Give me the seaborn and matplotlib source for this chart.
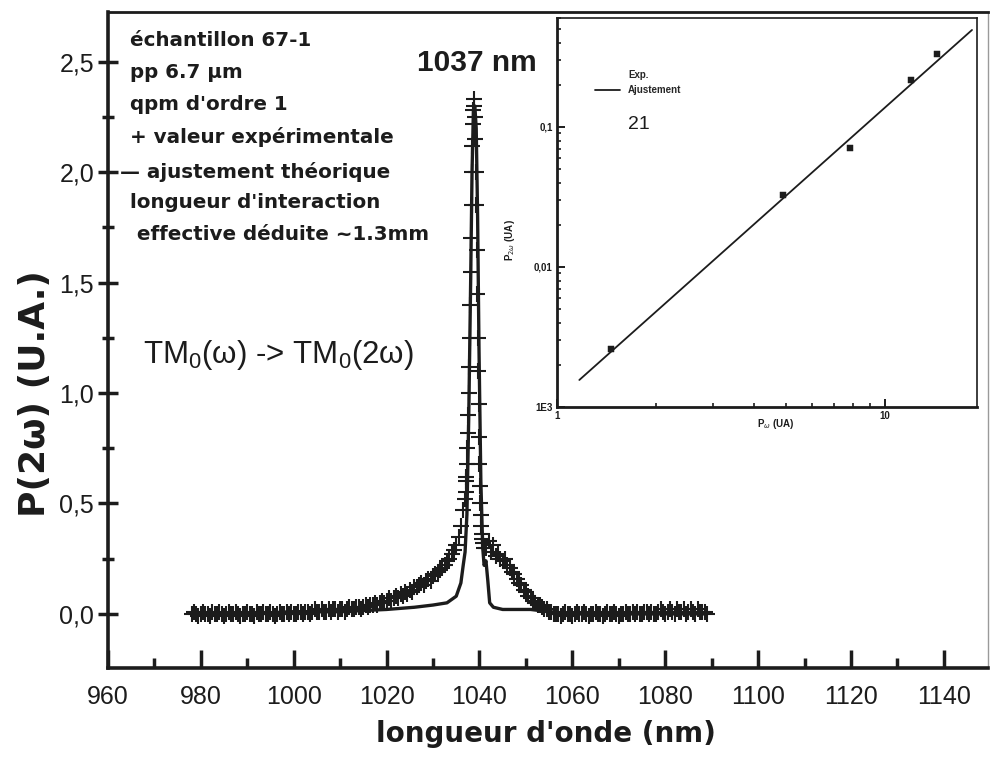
import matplotlib
matplotlib.use("Agg")
import matplotlib.pyplot as plt
import matplotlib.ticker as mticker
from matplotlib.lines import Line2D
import seaborn as sns

# --- Spectre principal : valeurs expérimentales (croix) ---
wl_base_gauche = [978, 978.5, 979, 979.5, 980, 980.5, 981, 981.5, 982, 982.5, 983, 983.5,
                  984, 984.5, 985, 985.5, 986, 986.5, 987, 987.5, 988, 988.5, 989, 989.5,
                  990, 990.5, 991, 991.5, 992, 992.5, 993, 993.5, 994, 994.5, 995, 995.5,
                  996, 996.5, 997, 997.5, 998, 998.5, 999, 999.5, 1000, 1000.5, 1001,
                  1001.5, 1002, 1002.5, 1003, 1003.5, 1004, 1004.5, 1005, 1005.5, 1006,
                  1006.5, 1007, 1007.5, 1008, 1008.5, 1009, 1009.5]
p_base_gauche = [0.00, 0.01, 0.00, -0.01, 0.00, 0.01, 0.00, 0.00, -0.01, 0.01, 0.00, 0.00,
                 0.01, 0.00, -0.01, 0.00, 0.01, 0.00, 0.00, 0.01, 0.00, -0.01, 0.00, 0.00,
                 0.01, 0.00, 0.00, -0.01, 0.01, 0.00, 0.00, 0.01, 0.00, 0.00, 0.01, 0.00,
                 -0.01, 0.00, 0.01, 0.00, 0.00, 0.01, 0.00, 0.01, 0.00, 0.00, 0.01, 0.01,
                 0.00, 0.01, 0.01, 0.00, 0.01, 0.02, 0.01, 0.01, 0.02, 0.01, 0.01, 0.02,
                 0.01, 0.02, 0.02, 0.01]

wl_aile_gauche = [1010, 1010.5, 1011, 1011.5, 1012, 1012.5, 1013, 1013.5, 1014, 1014.5,
                  1015, 1015.5, 1016, 1016.5, 1017, 1017.5, 1018, 1018.5, 1019, 1019.5,
                  1020, 1020.5, 1021, 1021.5, 1022, 1022.5, 1023, 1023.5, 1024, 1024.5,
                  1025, 1025.5, 1026, 1026.5, 1027, 1027.5, 1028, 1028.5, 1029, 1029.5,
                  1030, 1030.5, 1031, 1031.5, 1032, 1032.5, 1033, 1033.5, 1034, 1034.5,
                  1035, 1035.5, 1036, 1036.5]
p_aile_gauche = [0.02, 0.02, 0.01, 0.02, 0.03, 0.02, 0.02, 0.03, 0.03, 0.02,
                 0.03, 0.04, 0.03, 0.04, 0.04, 0.05, 0.04, 0.05, 0.06, 0.05,
                 0.06, 0.07, 0.06, 0.07, 0.08, 0.07, 0.09, 0.08, 0.10, 0.09,
                 0.11, 0.10, 0.12, 0.12, 0.13, 0.14, 0.13, 0.15, 0.16, 0.15,
                 0.17, 0.18, 0.19, 0.20, 0.21, 0.22, 0.24, 0.25, 0.27, 0.29,
                 0.31, 0.35, 0.40, 0.47]

wl_pic = [1036.8, 1037.0, 1037.1, 1037.2, 1037.3, 1037.4, 1037.5, 1037.6, 1037.7, 1037.8,
          1037.9, 1038.0, 1038.1, 1038.2, 1038.3, 1038.4, 1038.5, 1038.6, 1038.7, 1038.8,
          1038.9, 1039.0, 1039.1, 1039.2, 1039.3, 1039.4, 1039.5, 1039.6, 1039.7, 1039.8,
          1039.9, 1040.0, 1040.1, 1040.2, 1040.3, 1040.4, 1040.5, 1040.6, 1040.8, 1041.0]
p_pic = [0.52, 0.55, 0.60, 0.62, 0.68, 0.75, 0.82, 0.90, 1.00, 1.12,
         1.25, 1.40, 1.55, 1.70, 1.85, 2.00, 2.12, 2.22, 2.28, 2.33,
         2.30, 2.25, 2.15, 2.00, 1.85, 1.65, 1.45, 1.25, 1.10, 0.95,
         0.80, 0.68, 0.58, 0.50, 0.45, 0.40, 0.36, 0.34, 0.32, 0.30]

wl_aile_droite = [1041.5, 1042, 1042.5, 1043, 1043.5, 1044, 1044.5, 1045, 1045.5, 1046,
                  1046.5, 1047, 1047.5, 1048, 1048.5, 1049, 1049.5, 1050, 1050.5, 1051,
                  1051.5, 1052, 1052.5, 1053, 1053.5, 1054, 1054.5, 1055, 1055.5, 1056]
p_aile_droite = [0.30, 0.33, 0.28, 0.31, 0.26, 0.27, 0.25, 0.24, 0.25, 0.22,
                 0.21, 0.19, 0.18, 0.16, 0.14, 0.13, 0.11, 0.10, 0.08, 0.07,
                 0.06, 0.05, 0.04, 0.04, 0.03, 0.02, 0.02, 0.01, 0.01, 0.00]

wl_base_droite = [1056.5, 1057, 1057.5, 1058, 1058.5, 1059, 1059.5, 1060, 1060.5, 1061,
                  1061.5, 1062, 1062.5, 1063, 1063.5, 1064, 1064.5, 1065, 1065.5, 1066,
                  1066.5, 1067, 1067.5, 1068, 1068.5, 1069, 1069.5, 1070, 1070.5, 1071,
                  1071.5, 1072, 1072.5, 1073, 1073.5, 1074, 1074.5, 1075, 1075.5, 1076,
                  1076.5, 1077, 1077.5, 1078, 1078.5, 1079, 1079.5, 1080, 1080.5, 1081,
                  1081.5, 1082, 1082.5, 1083, 1083.5, 1084, 1084.5, 1085, 1085.5, 1086,
                  1086.5, 1087, 1087.5, 1088, 1088.5, 1089]
p_base_droite = [0.00, 0.00, -0.01, 0.00, 0.01, 0.00, 0.00, -0.01, 0.00, 0.01, 0.00, 0.00,
                 0.01, 0.00, -0.01, 0.00, 0.00, 0.01, 0.00, 0.00, -0.01, 0.00, 0.01, 0.00,
                 0.00, 0.01, 0.00, -0.01, 0.00, 0.00, 0.01, 0.00, 0.00, 0.01, 0.00, 0.01,
                 0.00, 0.00, 0.01, 0.01, 0.00, 0.01, 0.00, 0.00, 0.01, 0.02, 0.01, 0.00,
                 0.01, 0.02, 0.01, 0.00, 0.02, 0.01, 0.01, 0.02, 0.00, 0.01, 0.02, 0.01,
                 0.00, 0.02, 0.01, 0.01, 0.01, 0.00]

# --- Ajustement théorique ---
wl_fit = [978, 990, 1000, 1010, 1020, 1026, 1030, 1033, 1035, 1036, 1036.5, 1036.9,
          1037.3, 1037.7, 1038.1, 1038.4, 1038.7, 1039.0, 1039.3, 1039.6, 1039.9,
          1040.3, 1040.7, 1041.0, 1041.4, 1041.8, 1042.2, 1043, 1045, 1048, 1051,
          1055, 1060, 1070, 1080, 1089]
p_fit = [0.0, 0.0, 0.01, 0.01, 0.02, 0.03, 0.04, 0.05, 0.08, 0.14, 0.22, 0.28,
         0.45, 0.90, 1.50, 2.00, 2.28, 2.30, 2.20, 1.80, 1.20,
         0.60, 0.30, 0.22, 0.24, 0.15, 0.05, 0.03, 0.02, 0.02, 0.02,
         0.01, 0.0, 0.0, 0.0, 0.0]

# --- Encart : P(2w) en fonction de P(w) ---
p_omega = [1.46, 4.89, 7.82, 11.98, 14.4]
p_2omega = [0.00258, 0.0327, 0.0711, 0.217, 0.330]
p_omega_fit = [1.17, 18.45]
p_2omega_fit = [0.00156, 0.493]

y_ticks = [0.0, 0.5, 1.0, 1.5, 2.0, 2.5]
y_tick_labels = ["0,0", "0,5", "1,0", "1,5", "2,0", "2,5"]
x_ticks = [960, 980, 1000, 1020, 1040, 1060, 1080, 1100, 1120, 1140]

legende_texte = [
    "échantillon 67-1",
    "pp 6.7 µm",
    "qpm d'ordre 1",
    "+ valeur expérimentale",
    "— ajustement théorique",
    "longueur d'interaction",
    " effective déduite ~1.3mm",
]

sns.set_style("ticks")
plt.rcParams["font.family"] = ["Liberation Sans", "DejaVu Sans"]
encre = "#1c1c1c"

fig = plt.figure(figsize=(9.9, 7.7), dpi=100)
ax = fig.add_axes([0.109, 0.1325, 0.889, 0.852])

wl_exp = wl_base_gauche + wl_aile_gauche + wl_pic + wl_aile_droite + wl_base_droite
p_exp = p_base_gauche + p_aile_gauche + p_pic + p_aile_droite + p_base_droite

sns.lineplot(x=wl_fit, y=p_fit, color=encre, lw=2.4, sort=False, estimator=None,
             ax=ax, zorder=2)
sns.scatterplot(x=wl_exp, y=p_exp, marker="+", s=130, linewidth=1.5, color=encre,
                ax=ax, zorder=3)

ax.set_xlim(960, 1149.5)
ax.set_ylim(-0.245, 2.726)
ax.set_xticks(x_ticks)
ax.set_xticklabels([str(v) for v in x_ticks],
                   family=["Liberation Sans Narrow", "Liberation Sans"], fontsize=18)
ax.xaxis.set_minor_locator(mticker.MultipleLocator(10))
ax.set_yticks(y_ticks)
ax.set_yticklabels(y_tick_labels, fontsize=18)
ax.yaxis.set_minor_locator(mticker.MultipleLocator(0.25))
ax.tick_params(axis="x", which="major", direction="in", length=13, width=2.5, pad=12,
               color=encre, labelcolor=encre, bottom=True, top=False)
ax.tick_params(axis="x", which="minor", direction="in", length=7, width=2.5, color=encre,
               bottom=True, top=False)
ax.tick_params(axis="y", which="major", direction="inout", length=14, width=2.5, pad=3,
               color=encre, labelcolor=encre, left=True, right=False)
ax.tick_params(axis="y", which="minor", direction="inout", length=9, width=2.5,
               color=encre, left=True, right=False)
for cote in ["left", "bottom"]:
    ax.spines[cote].set_linewidth(2.6)
    ax.spines[cote].set_color(encre)
ax.spines["top"].set_linewidth(2.0)
ax.spines["top"].set_color(encre)
ax.spines["right"].set_linewidth(1.0)
ax.spines["right"].set_color("#9a9a9a")

ax.set_xlabel("longueur d'onde (nm)", family="DejaVu Sans", fontweight="bold",
              fontsize=20, color=encre)
ax.xaxis.set_label_coords(0.498, -0.079)
ax.set_ylabel("P(2ω) (U.A.)", family="DejaVu Sans", fontweight="bold", fontsize=26,
              color=encre)
ax.yaxis.set_label_coords(-0.064, 0.418)

for i, ligne in enumerate(legende_texte):
    y_px = [40, 73, 105, 137, 172, 202, 235][i]
    x_px = 120 if ligne.startswith("—") else 130
    fig.text(x_px / 990, 1 - y_px / 770, ligne, family="DejaVu Sans", fontweight="bold",
             fontsize=14.3, va="center", ha="left", color=encre)

fig.text(477 / 990, 1 - 63 / 770, "1037 nm", fontweight="bold", fontsize=21.5,
         ha="center", va="center", color=encre)
fig.text(143 / 990, 1 - 355 / 770,
         r"TM$_\mathregular{0}$(ω) -> TM$_\mathregular{0}$(2ω)",
         fontsize=22.5, ha="left", va="center", color=encre)

# --- Encart log-log ---
ax_in = fig.add_axes([0.5626, 0.4714, 0.4242, 0.5052])
sns.lineplot(x=p_omega_fit, y=p_2omega_fit, color=encre, lw=1.3, ax=ax_in,
             estimator=None, sort=False)
sns.scatterplot(x=p_omega, y=p_2omega, marker="s", s=18, color=encre, edgecolor=encre,
                ax=ax_in, zorder=3)
ax_in.set_xscale("log")
ax_in.set_yscale("log")
ax_in.set_xlim(1, 19.1)
ax_in.set_ylim(1e-3, 0.6)
ax_in.xaxis.set_major_locator(mticker.FixedLocator([1, 10]))
ax_in.xaxis.set_major_formatter(mticker.FixedFormatter(["1", "10"]))
ax_in.xaxis.set_minor_locator(mticker.LogLocator(base=10, subs=range(2, 10)))
ax_in.xaxis.set_minor_formatter(mticker.NullFormatter())
ax_in.yaxis.set_major_locator(mticker.FixedLocator([1e-3, 1e-2, 1e-1]))
ax_in.yaxis.set_major_formatter(mticker.FixedFormatter(["1E3", "0,01", "0,1"]))
ax_in.yaxis.set_minor_locator(mticker.LogLocator(base=10, subs=range(2, 10)))
ax_in.yaxis.set_minor_formatter(mticker.NullFormatter())
ax_in.tick_params(which="major", direction="in", length=6, width=1.4, labelsize=7,
                  pad=3, color=encre, labelcolor=encre, bottom=True, left=True,
                  top=False, right=False)
ax_in.tick_params(which="minor", direction="in", length=3, width=1.2, color=encre,
                  bottom=True, left=True, top=False, right=False)
for lab in ax_in.get_xticklabels() + ax_in.get_yticklabels():
    lab.set_fontweight("bold")
for cote in ["left", "bottom"]:
    ax_in.spines[cote].set_linewidth(2.0)
    ax_in.spines[cote].set_color(encre)
for cote in ["top", "right"]:
    ax_in.spines[cote].set_linewidth(1.2)
    ax_in.spines[cote].set_color(encre)

ax_in.set_xlabel(r"P$_\omega$ (UA)", fontsize=7, fontweight="bold", color=encre)
ax_in.xaxis.set_label_coords(0.52, -0.025)
ax_in.set_ylabel(r"P$_{2\omega}$ (UA)", fontsize=7, fontweight="bold", color=encre)
ax_in.yaxis.set_label_coords(-0.095, 0.43)

poignees = [Line2D([], [], linestyle="none"), Line2D([], [], color=encre, lw=1.3)]
ax_in.legend(poignees, ["Exp.", "Ajustement"], loc="upper left",
             bbox_to_anchor=(0.07, 0.89), frameon=False, handlelength=2.6,
             labelspacing=0.6, prop={"weight": "bold", "size": 7})
ax_in.text(0.17, 0.727, "21", transform=ax_in.transAxes, fontsize=14,
           ha="left", va="center", color=encre)

fig.savefig("out.png", dpi=100)
